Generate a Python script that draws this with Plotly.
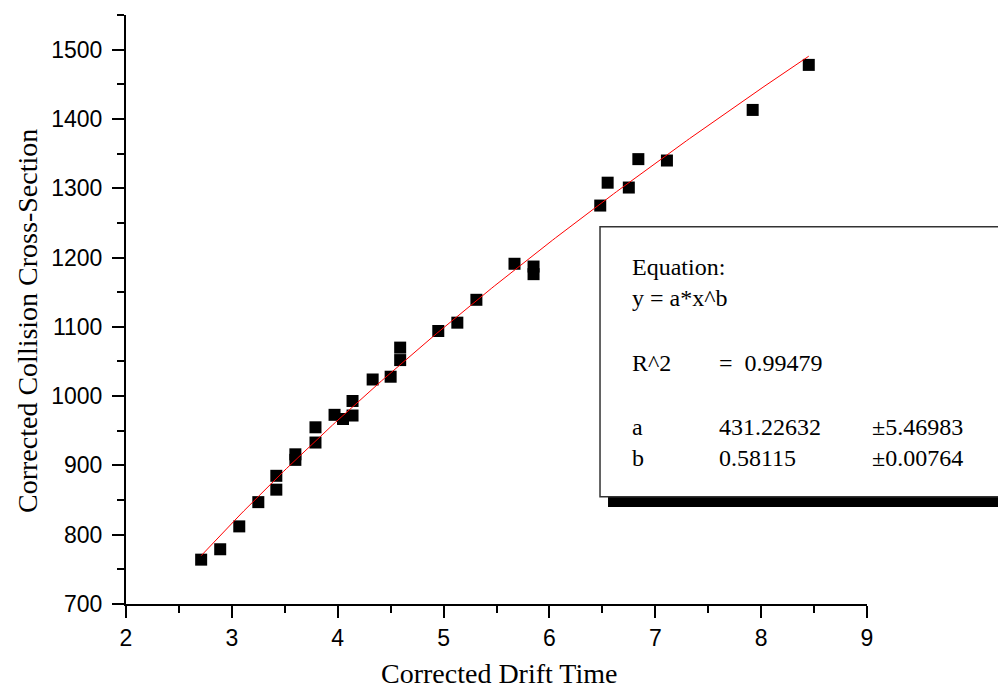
import plotly.graph_objects as go
import numpy as np

# Data
drift_time = [2.71, 2.89, 3.07, 3.25, 3.42, 3.42, 3.60, 3.60, 3.79, 3.79, 3.97, 4.05,
              4.14, 4.14, 4.33, 4.50, 4.59, 4.59, 4.95, 5.13, 5.31, 5.67, 5.85, 5.85,
              6.48, 6.55, 6.75, 6.84, 7.11, 7.92, 8.45]
ccs = [764, 779, 812, 847, 865, 885, 908, 916, 933, 955, 973, 967,
       972, 993, 1024, 1028, 1052, 1070, 1094, 1106, 1139, 1191, 1187, 1176,
       1275, 1308, 1301, 1342, 1340, 1413, 1478]

# Fit parameters shown in the chart
fit_a = 431.22632
fit_a_err = 5.46983
fit_b = 0.58115
fit_b_err = 0.00764
r_squared = 0.99479

x_ticks = [2, 3, 4, 5, 6, 7, 8, 9]
y_ticks = [700, 800, 900, 1000, 1100, 1200, 1300, 1400, 1500]

fit_x = np.linspace(min(drift_time), max(drift_time), 200)
fit_y = fit_a * fit_x ** fit_b

fig = go.Figure()
fig.add_trace(go.Scatter(x=drift_time, y=ccs, mode="markers",
                         marker=dict(symbol="square", size=12, color="black",
                                     line=dict(width=0)),
                         showlegend=False, cliponaxis=False))
fig.add_trace(go.Scatter(x=fit_x, y=fit_y, mode="lines",
                         line=dict(color="red", width=1), showlegend=False))

serif = "Liberation Serif"
sans = "Liberation Sans"

axis_common = dict(ticks="outside", ticklen=12, tickwidth=2, tickcolor="black",
                   showline=True, linewidth=2, linecolor="black",
                   showgrid=False, zeroline=False, automargin=False,
                   tickfont=dict(family=sans, size=23, color="black"))

fig.update_layout(
    width=998, height=689,
    margin=dict(l=126, r=131, t=15, b=85, autoexpand=False),
    plot_bgcolor="white", paper_bgcolor="white",
    font=dict(family=sans, color="black", size=20),
    xaxis=dict(range=[2, 9], tickvals=x_ticks,
               minor=dict(ticks="outside", ticklen=7, tickwidth=2,
                          tickcolor="black", dtick=0.5, showgrid=False),
               **axis_common),
    yaxis=dict(range=[700, 1550], tickvals=y_ticks, ticklabelstandoff=5,
               minor=dict(ticks="outside", ticklen=7, tickwidth=2,
                          tickcolor="black", dtick=50, showgrid=False),
               **axis_common),
)

# Axis titles
fig.add_annotation(x=0.5034, y=-0.1175, xref="paper", yref="paper",
                   text="Corrected Drift Time", showarrow=False,
                   xanchor="center", yanchor="middle", borderpad=0,
                   font=dict(family=serif, size=28, color="black"))
fig.add_annotation(x=-0.1323, y=0.4805, xref="paper", yref="paper",
                   text="Corrected Collision Cross-Section", showarrow=False,
                   textangle=-90, xanchor="center", yanchor="middle",
                   font=dict(family=serif, size=28, color="black"))

# Fit result box with shadow (paper coordinates)
fig.add_shape(type="rect", xref="paper", yref="paper",
              x0=0.6505, x1=1.2, y0=0.1647, y1=0.182,
              fillcolor="black", line=dict(width=0), layer="above")
fig.add_shape(type="rect", xref="paper", yref="paper",
              x0=0.6397, x1=1.2, y0=0.1822, y1=0.6406,
              fillcolor="white", line=dict(color="#333333", width=1.5), layer="above")

box_font = dict(family=serif, size=24, color="black")
col1, col2, col3 = 0.680, 0.797, 1.004
rows = [
    (0.572, [(col1, "Equation:")]),
    (0.5195, [(col1, "y = a*x^b")]),
    (0.409, [(col1, "R^2"), (col2, f"=  {r_squared:.5f}")]),
    (0.3005, [(col1, "a"), (col2, f"{fit_a:.5f}"), (col3, f"±{fit_a_err:.5f}")]),
    (0.248, [(col1, "b"), (col2, f"{fit_b:.5f}"), (col3, f"±{fit_b_err:.5f}")]),
]
for yy, items in rows:
    for xx, txt in items:
        fig.add_annotation(x=xx, y=yy, xref="paper", yref="paper", text=txt,
                           showarrow=False, xanchor="left", yanchor="middle",
                           font=box_font)

fig.write_html("out.html", config={"displayModeBar": False})
